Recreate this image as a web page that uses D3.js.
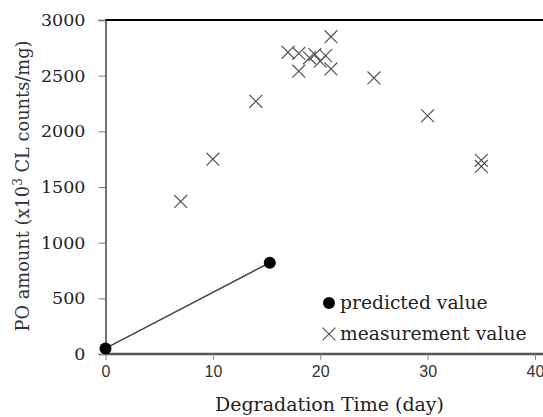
<!DOCTYPE html>
<html>
<head>
<meta charset="utf-8">
<script src="https://cdn.jsdelivr.net/npm/d3@7"></script>
<style>
  body { margin: 0; background: #fff; }
  svg { display: block; }
</style>
</head>
<body>
<script>
// data
const measuredDays = [7, 10, 14, 17, 18, 18, 19, 19.5, 20, 20.5, 21, 21, 25, 30, 35, 35];
const measuredPO = [1370, 1750, 2270, 2710, 2700, 2540, 2660, 2690, 2630, 2680, 2850, 2560, 2480, 2140, 1740, 1685];
const predictedDays = [0, 15.3];
const predictedPO = [50, 820];
const xTicks = [0, 10, 20, 30, 40];
const yTicks = [0, 500, 1000, 1500, 2000, 2500, 3000];

const width = 543;
const height = 417;
const margin = { top: 20, right: 8, bottom: 63, left: 105.5 };

const svg = d3.select("body").append("svg")
    .attr("width", width)
    .attr("height", height);

const x = d3.scaleLinear().domain([0, 40]).range([margin.left, width - margin.right]);
const y = d3.scaleLinear().domain([0, 3000]).range([height - margin.bottom, margin.top]);

const serif = "'DejaVu Serif', serif";

// y axis
const yAxis = svg.append("g")
    .attr("transform", `translate(${margin.left},0)`)
    .call(d3.axisLeft(y).tickValues(yTicks).tickFormat(d3.format("d")).tickSize(7).tickPadding(13));
yAxis.select(".domain").attr("stroke", "#444").attr("stroke-width", 1.5);
yAxis.selectAll(".tick line").attr("stroke", "#777");
yAxis.selectAll(".tick text")
    .attr("font-family", serif)
    .attr("font-size", 17.5)
    .attr("fill", "#222");

// x axis
const xAxis = svg.append("g")
    .attr("transform", `translate(0,${height - margin.bottom})`)
    .call(d3.axisBottom(x).tickValues(xTicks).tickSize(6).tickPadding(6));
xAxis.select(".domain").attr("stroke", "#555").attr("stroke-width", 2.5)
    .attr("d", `M${margin.left},0H${width}`);
xAxis.selectAll(".tick line").attr("stroke", "#888");
xAxis.selectAll(".tick text")
    .attr("font-family", "'Liberation Sans', Arial, sans-serif")
    .attr("font-size", 16)
    .attr("fill", "#333");

// top border
svg.append("line")
    .attr("x1", margin.left).attr("x2", width)
    .attr("y1", y(3000)).attr("y2", y(3000))
    .attr("stroke", "#000").attr("stroke-width", 2.2);

// axis titles
svg.append("text")
    .attr("x", 329.5)
    .attr("y", 411)
    .attr("text-anchor", "middle")
    .attr("font-family", serif)
    .attr("font-size", 19)
    .attr("fill", "#222")
    .text("Degradation Time (day)");

const yTitle = svg.append("text")
    .attr("transform", `translate(29,186) rotate(-90)`)
    .attr("text-anchor", "middle")
    .attr("font-family", serif)
    .attr("font-size", 17.8)
    .attr("fill", "#333");
yTitle.append("tspan").text("PO amount (x10");
yTitle.append("tspan").attr("dy", -7).attr("font-size", 12).text("3");
yTitle.append("tspan").attr("dy", 7).text(" CL counts/mg)");

// predicted line + dots
const predicted = predictedDays.map((d, i) => [d, predictedPO[i]]);
svg.append("path")
    .datum(predicted)
    .attr("fill", "none")
    .attr("stroke", "#444")
    .attr("stroke-width", 1.5)
    .attr("d", d3.line().x(d => x(d[0])).y(d => y(d[1])));
svg.selectAll(".pred")
    .data(predicted)
    .join("circle")
    .attr("class", "pred")
    .attr("cx", d => x(d[0]))
    .attr("cy", d => y(d[1]))
    .attr("r", 6)
    .attr("fill", "#000");

// measured crosses
const cross = d3.symbol().type(d3.symbolX).size(110);
svg.selectAll(".meas")
    .data(measuredDays.map((d, i) => [d, measuredPO[i]]))
    .join("path")
    .attr("class", "meas")
    .attr("transform", d => `translate(${x(d[0])},${y(d[1])})`)
    .attr("d", cross)
    .attr("fill", "none")
    .attr("stroke", "#555")
    .attr("stroke-width", 1.2);

// legend
const legend = svg.append("g").attr("font-family", serif).attr("font-size", 18.7).attr("fill", "#222");
legend.append("circle").attr("cx", 329).attr("cy", 303).attr("r", 6).attr("fill", "#000");
legend.append("text").attr("x", 340).attr("y", 309).text("predicted value");
legend.append("path")
    .attr("transform", "translate(329,334)")
    .attr("d", cross)
    .attr("fill", "none").attr("stroke", "#555").attr("stroke-width", 1.2);
legend.append("text").attr("x", 340).attr("y", 340).text("measurement value");
</script>
</body>
</html>
